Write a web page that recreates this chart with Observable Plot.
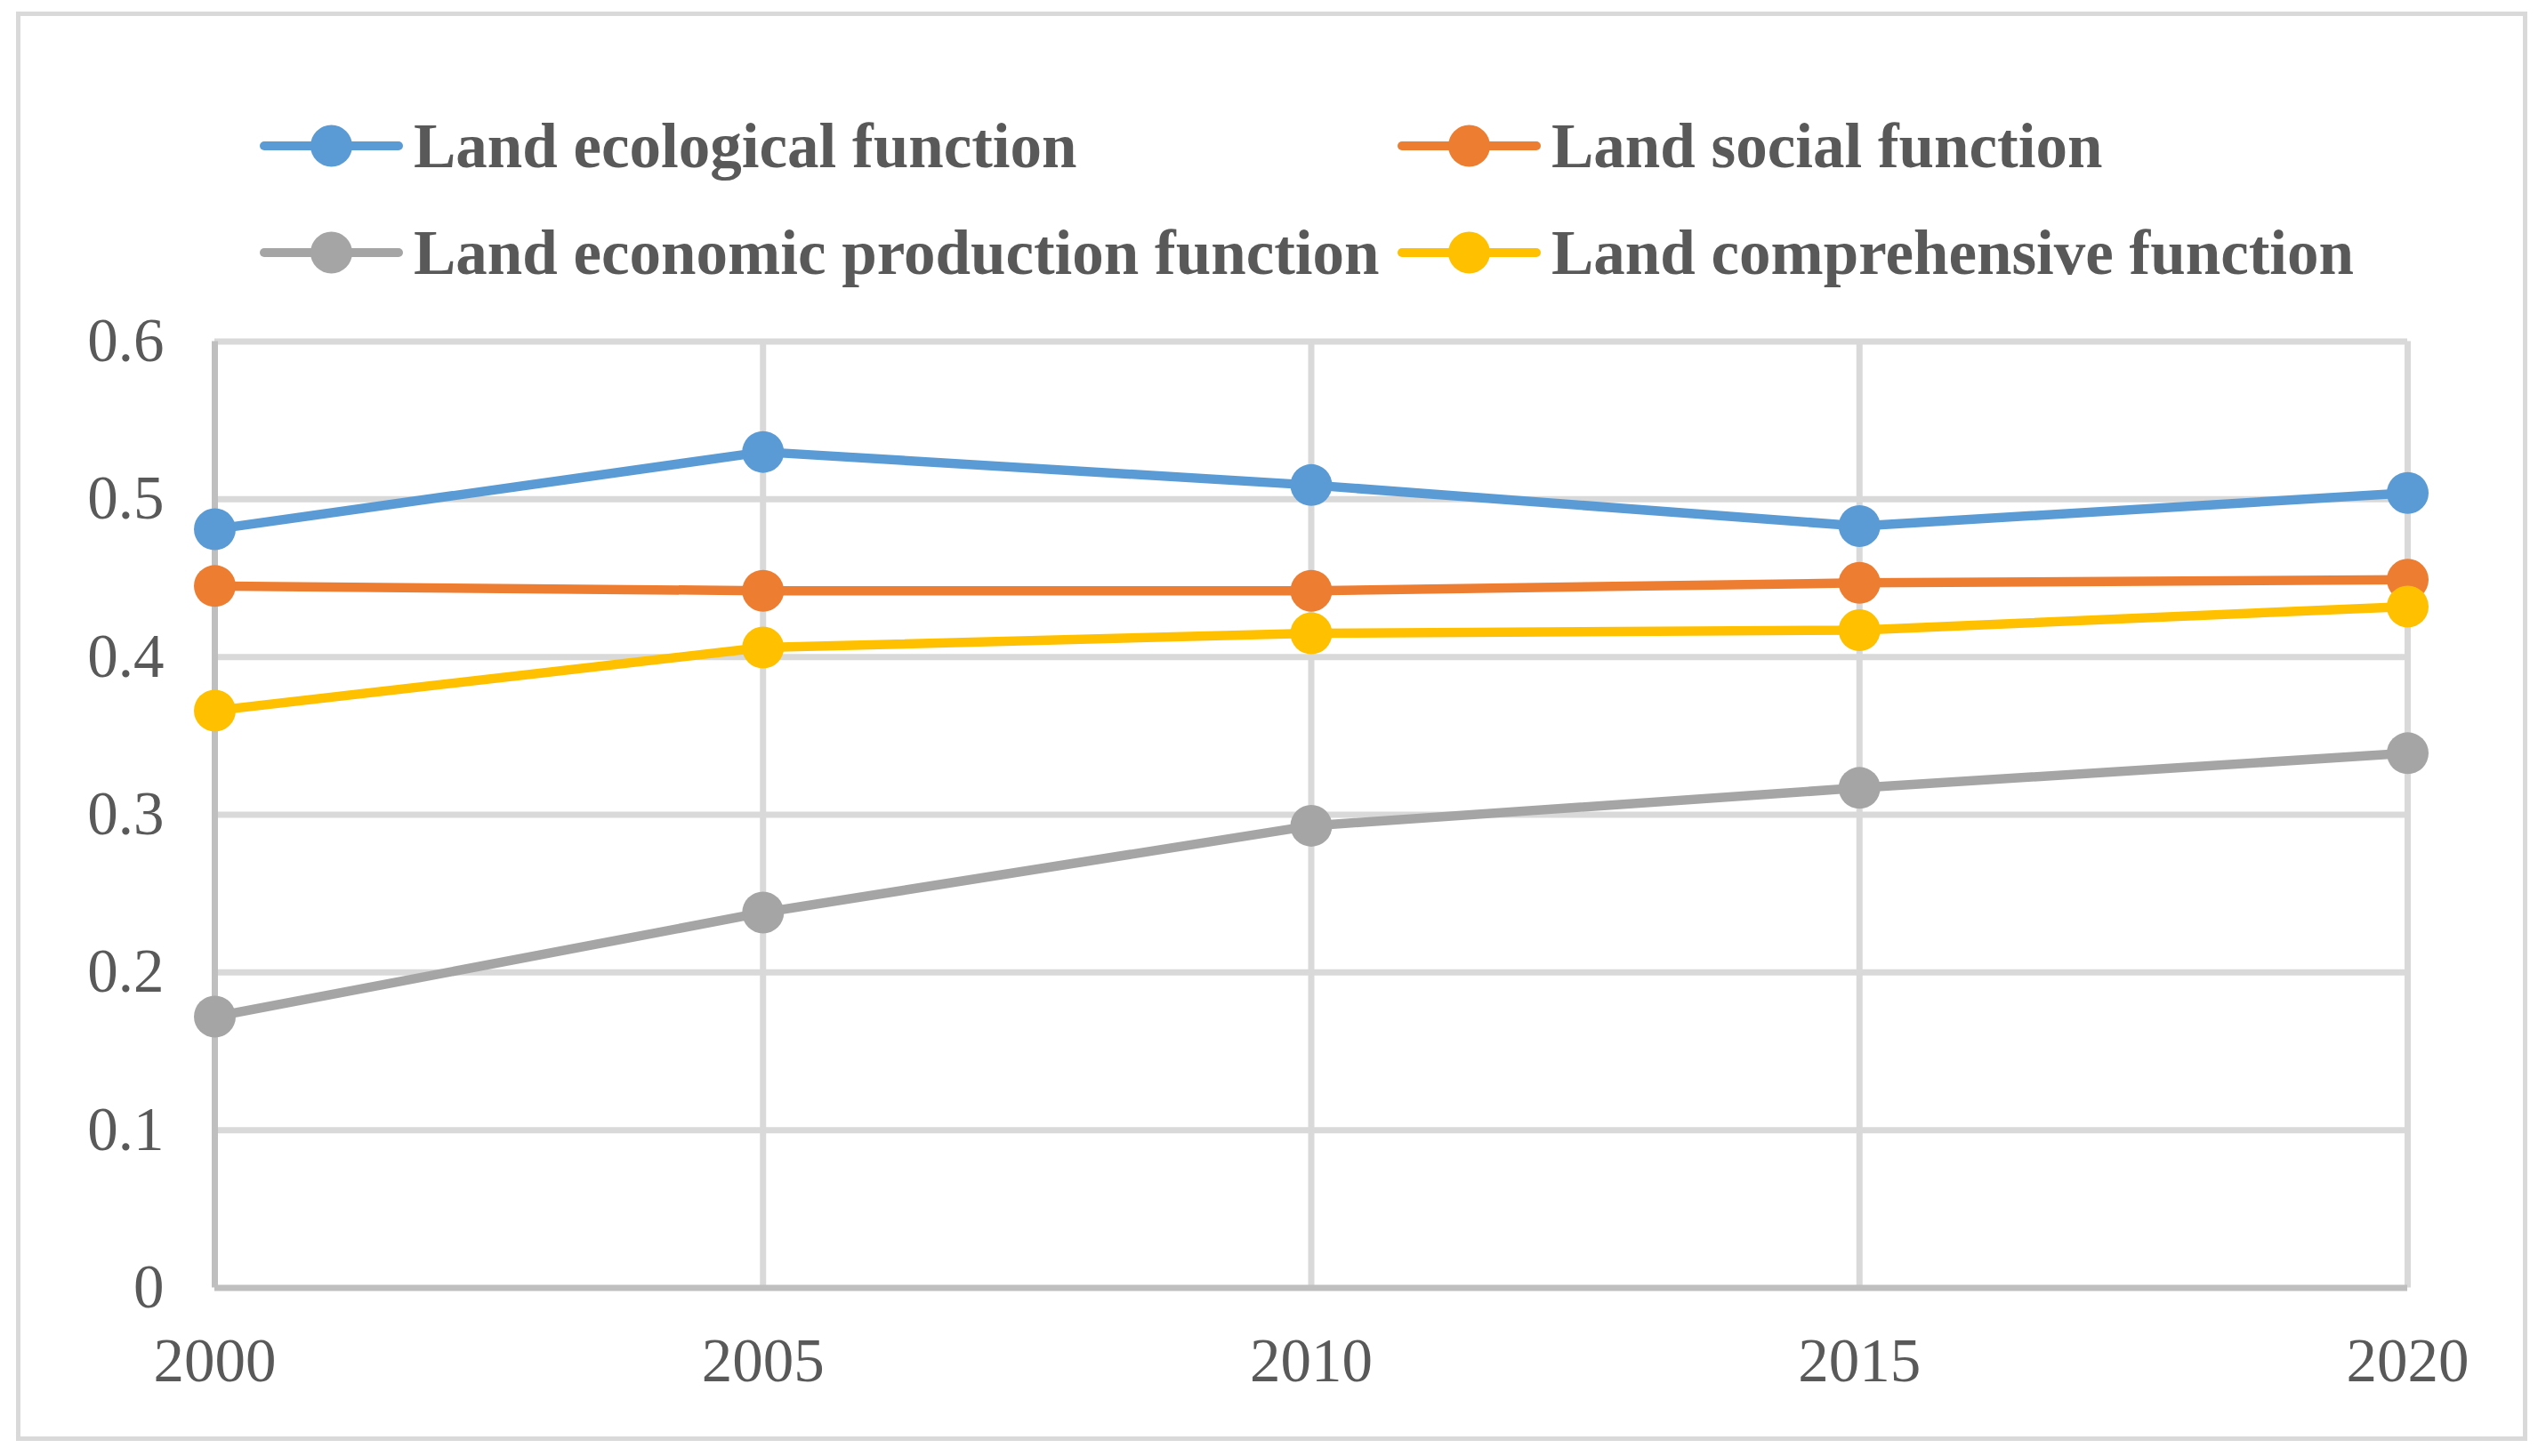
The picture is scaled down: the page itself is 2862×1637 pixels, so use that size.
<!DOCTYPE html>
<html>
<head>
<meta charset="utf-8">
<script src="https://cdn.jsdelivr.net/npm/d3@7"></script>
<script src="https://cdn.jsdelivr.net/npm/@observablehq/plot@0.6"></script>
<style>
  html, body { margin: 0; padding: 0; background: #ffffff; }
  body { width: 2862px; height: 1637px; position: relative; overflow: hidden;
         font-family: "Liberation Serif", "Times New Roman", serif; }
  #frame { position: absolute; left: 18px; top: 13px; width: 2823px; height: 1607px;
           box-sizing: border-box; border: 5px solid #d9d9d9; }
  .leg { position: absolute; height: 0; }
  .leg svg { position: absolute; top: -25px; left: 0; overflow: visible; }
  .leg .lab { position: absolute; top: 0; transform: translateY(-50%); line-height: 1;
              white-space: nowrap; font-weight: bold; font-size: 71px; color: #595959; }
  #chart { position: absolute; left: 0; top: 340px; }
</style>
</head>
<body>
<div id="frame"></div>
<div id="legend"></div>
<div id="chart"></div>
<script>
// ---- data ----
const years = [2000, 2005, 2010, 2015, 2020];
const seriesNames = [
  "Land ecological function",
  "Land social function",
  "Land economic production function",
  "Land comprehensive function"
];
const ecological    = [0.481, 0.530, 0.509, 0.483, 0.504];
const social        = [0.445, 0.442, 0.442, 0.447, 0.449];
const economic      = [0.172, 0.238, 0.293, 0.317, 0.339];
const comprehensive = [0.366, 0.406, 0.415, 0.417, 0.432];
const yTicks = [0, 0.1, 0.2, 0.3, 0.4, 0.5, 0.6];
const colors = ["#5B9BD5", "#ED7D31", "#A5A5A5", "#FFC000"];

const valuesList = [ecological, social, economic, comprehensive];
const rows = [];
seriesNames.forEach((s, i) => years.forEach((yr, j) => rows.push({series: s, year: yr, value: valuesList[i][j]})));

// ---- legend (HTML) ----
const legendPos = [
  {x: 292, y: 164}, {x: 1571, y: 164},
  {x: 292, y: 284}, {x: 1571, y: 284}
];
const legend = document.getElementById("legend");
seriesNames.forEach((s, i) => {
  const p = legendPos[i];
  const d = document.createElement("div");
  d.className = "leg";
  d.style.left = p.x + "px";
  d.style.top = p.y + "px";
  d.innerHTML = `<svg width="161" height="50"><line x1="5" x2="156" y1="25" y2="25" stroke="${colors[i]}" stroke-width="10" stroke-linecap="round"/><circle cx="80.5" cy="25" r="23.5" fill="${colors[i]}"/></svg><div class="lab" style="left:173px">${s}</div>`;
  legend.appendChild(d);
});

// ---- chart ----
const seriesMarks = [];
seriesNames.forEach((s, i) => {
  const data = rows.filter(r => r.series === s);
  seriesMarks.push(Plot.line(data, {x: "year", y: "value", stroke: colors[i], strokeWidth: 10.5, strokeLinejoin: "round"}));
  seriesMarks.push(Plot.dot(data, {x: "year", y: "value", r: 23.5, fill: colors[i], stroke: "none"}));
});

const chart = Plot.plot({
  width: 2862,
  height: 1297,
  marginLeft: 241,
  marginRight: 156,
  marginTop: 43.5,
  marginBottom: 189.5,
  x: {domain: [2000, 2020]},
  y: {domain: [0, 0.6]},
  style: {fontFamily: '"Liberation Serif", "Times New Roman", serif', fontSize: "69px", color: "#595959", background: "transparent", overflow: "visible"},
  marks: [
    Plot.ruleY(yTicks.filter(t => t > 0), {stroke: "#d9d9d9", strokeWidth: 7}),
    Plot.ruleX(years.slice(1), {y1: 0, y2: 0.6, stroke: "#d9d9d9", strokeWidth: 7}),
    Plot.ruleX([2000], {y1: 0, y2: 0.6, stroke: "#bfbfbf", strokeWidth: 7}),
    Plot.ruleY([0], {x1: 2000, x2: 2020, stroke: "#bfbfbf", strokeWidth: 7}),
    Plot.axisY(yTicks, {tickSize: 0, tickPadding: 57, label: null, fontSize: 69, tickFormat: d => String(d)}),
    Plot.axisX(years, {tickSize: 0, tickPadding: 56, label: null, fontSize: 69, tickFormat: d => String(d)}),
    ...seriesMarks
  ]
});
document.getElementById("chart").appendChild(chart);
</script>
</body>
</html>
